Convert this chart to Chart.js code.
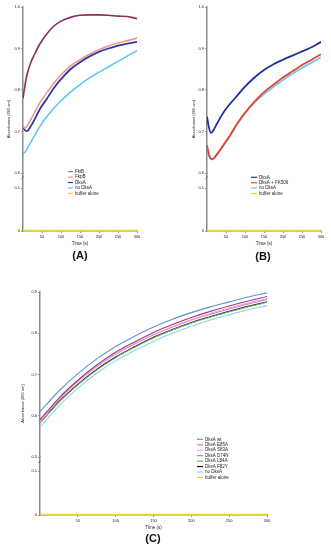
<!DOCTYPE html>
<html>
<head>
<meta charset="UTF-8">
<title>Absorbance (260 nm) over time</title>
<script src="https://cdn.jsdelivr.net/npm/chart.js"></script>
<style>
  body { margin: 0; background: #fff; font-family: "Liberation Sans", Arial, sans-serif; }
  .wrap { position: relative; width: 331px; height: 550px; overflow: hidden; }
  canvas { position: absolute; }
  .tag { position: absolute; font-weight: bold; font-size: 11px; transform: translateX(-50%); color: #111; }
</style>
</head>
<body>
<div class="wrap">
  <canvas id="chartA" width="165" height="250" style="left:0;top:0"></canvas>
  <canvas id="chartB" width="166" height="250" style="left:165px;top:0"></canvas>
  <canvas id="chartC" width="331" height="265" style="left:0;top:270px"></canvas>
  <div class="tag" style="left:80px;top:249px">(A)</div>
  <div class="tag" style="left:263px;top:250px">(B)</div>
  <div class="tag" style="left:153px;top:532px">(C)</div>
</div>

<script>
// ---- panel A ----
const timeA = [0, 5, 10, 20, 30, 45, 60, 80, 100, 125, 150, 175, 200, 225, 250, 275, 300];
const fkiB    = [0.780, 0.810, 0.835, 0.865, 0.885, 0.912, 0.932, 0.953, 0.966, 0.975, 0.980, 0.981, 0.981, 0.980, 0.978, 0.977, 0.972];
const fkpB    = [0.712, 0.708, 0.712, 0.728, 0.745, 0.770, 0.790, 0.815, 0.836, 0.858, 0.873, 0.886, 0.897, 0.906, 0.913, 0.919, 0.925];
const dksaA   = [0.712, 0.703, 0.701, 0.712, 0.728, 0.755, 0.775, 0.803, 0.826, 0.850, 0.867, 0.881, 0.892, 0.900, 0.907, 0.912, 0.916];
const noDksaA = [0.647, 0.650, 0.657, 0.673, 0.690, 0.713, 0.733, 0.755, 0.774, 0.795, 0.813, 0.829, 0.843, 0.856, 0.869, 0.882, 0.895];
const bufferA = [0.001, 0.001, 0.001, 0.001, 0.001, 0.001, 0.001, 0.001, 0.001, 0.001, 0.001, 0.001, 0.001, 0.001, 0.001, 0.001, 0.001];
const labelsA = ["FkiB", "FkpB", "DksA", "no DksA", "buffer alone"];

// ---- panel B ----
const timeB = [0, 5, 10, 15, 20, 30, 45, 60, 80, 100, 125, 150, 175, 200, 225, 250, 275, 300];
const dksaB    = [0.736, 0.710, 0.697, 0.700, 0.708, 0.725, 0.748, 0.766, 0.787, 0.808, 0.830, 0.848, 0.862, 0.873, 0.883, 0.893, 0.903, 0.916];
const fk506B   = [0.667, 0.645, 0.635, 0.634, 0.638, 0.650, 0.670, 0.690, 0.720, 0.745, 0.772, 0.795, 0.813, 0.830, 0.845, 0.860, 0.873, 0.886];
const noDksaB  = [0.651, 0.640, 0.634, 0.633, 0.636, 0.648, 0.668, 0.688, 0.718, 0.744, 0.770, 0.790, 0.808, 0.824, 0.839, 0.853, 0.866, 0.879];
const bufferB  = [0.001, 0.001, 0.001, 0.001, 0.001, 0.001, 0.001, 0.001, 0.001, 0.001, 0.001, 0.001, 0.001, 0.001, 0.001, 0.001, 0.001, 0.001];
const labelsB = ["DksA", "DksA + FK506", "no DksA", "buffer alone"];

// ---- panel C ----
const timeC = [0, 25, 50, 75, 100, 125, 150, 175, 200, 225, 250, 275, 300];
const wtC     = [0.610, 0.660, 0.702, 0.738, 0.768, 0.793, 0.815, 0.834, 0.850, 0.864, 0.876, 0.888, 0.898];
const e85aC   = [0.590, 0.643, 0.686, 0.723, 0.754, 0.779, 0.802, 0.821, 0.838, 0.853, 0.866, 0.878, 0.889];
const s83aC   = [0.585, 0.639, 0.682, 0.719, 0.750, 0.775, 0.797, 0.816, 0.833, 0.848, 0.861, 0.873, 0.884];
const d74nC   = [0.586, 0.640, 0.683, 0.719, 0.749, 0.774, 0.796, 0.815, 0.832, 0.846, 0.859, 0.871, 0.882];
const l84aC   = [0.582, 0.633, 0.675, 0.711, 0.741, 0.766, 0.789, 0.808, 0.825, 0.839, 0.852, 0.864, 0.875];
const f82yC   = [0.583, 0.634, 0.676, 0.712, 0.742, 0.767, 0.790, 0.809, 0.826, 0.840, 0.853, 0.865, 0.876];
const noDksaC = [0.572, 0.624, 0.667, 0.703, 0.733, 0.758, 0.780, 0.800, 0.817, 0.832, 0.845, 0.857, 0.867];
const bufferC = [0.001, 0.001, 0.001, 0.001, 0.001, 0.001, 0.001, 0.001, 0.001, 0.001, 0.001, 0.001, 0.001];
const labelsC = ["DksA wt", "DksA E85A", "DksA S83A", "DksA D74N", "DksA L84A", "DksA F82Y", "no DksA", "buffer alone"];

// axis ticks
const xTicks = [50, 100, 150, 200, 250, 300];
const lowTicks = [0, 0.1];
const upperTicksAB = [0.6, 0.7, 0.8, 0.9, 1.0];
const upperTicksC = [0.5, 0.6, 0.7, 0.8, 0.9];

const FONT = '"Liberation Sans", Arial, sans-serif';
const yellow = "#f2cf3c";

function pts(times, vals) {
  return times.map((t, i) => ({ x: t, y: vals[i] }));
}

function line(label, times, vals, color, width, axis, legendColor) {
  return {
    label: label,
    data: pts(times, vals),
    borderColor: color,
    backgroundColor: color,
    legendColor: legendColor || color,
    borderWidth: width,
    pointRadius: 0,
    cubicInterpolationMode: "monotone",
    fill: false,
    yAxisID: axis || "y"
  };
}

// legend, y title and axis break drawn onto the canvas
const extras = {
  id: "extras",
  afterDraw(chart, args, o) {
    const ctx = chart.ctx;
    const area = chart.chartArea;
    ctx.save();
    ctx.fillStyle = "#222";
    ctx.font = "4px " + FONT;
    ctx.translate(o.titleX, (area.top + area.bottom) / 2);
    ctx.rotate(-Math.PI / 2);
    ctx.textAlign = "center";
    ctx.textBaseline = "middle";
    ctx.fillText("Absorbance (260 nm)", 0, 0);
    ctx.restore();

    ctx.save();
    ctx.font = "4.5px " + FONT;
    ctx.textAlign = "left";
    ctx.textBaseline = "middle";
    chart.data.datasets.forEach((ds, i) => {
      const y = o.legendY + i * o.legendStep;
      ctx.strokeStyle = ds.legendColor;
      ctx.lineWidth = 1.2;
      ctx.beginPath();
      ctx.moveTo(o.legendX, y);
      ctx.lineTo(o.legendX + o.swatch, y);
      ctx.stroke();
      ctx.fillStyle = "#222";
      ctx.fillText(ds.label, o.legendX + o.swatch + 2, y);
    });

    // small break mark on the y axis
    const up = chart.scales.y;
    const by = up.bottom + 4;
    ctx.strokeStyle = "#555";
    ctx.lineWidth = 0.7;
    ctx.beginPath();
    ctx.moveTo(area.left - 1.5, by + 2);
    ctx.lineTo(area.left + 0.5, by - 1);
    ctx.stroke();
    ctx.restore();
  }
};

function options(cfg) {
  const tickFont = { size: 4, family: FONT };
  const grid = { display: true, drawOnChartArea: false, drawTicks: true, tickLength: 2, color: "#666", lineWidth: 0.7 };
  const border = { display: true, color: "#8a8a8a", width: 1.5 };
  return {
    responsive: false,
    animation: false,
    layout: { padding: cfg.padding },
    plugins: {
      legend: { display: false },
      tooltip: { enabled: false },
      extras: cfg.extras
    },
    scales: {
      x: {
        type: "linear", min: 0, max: 300,
        afterBuildTicks: s => { s.ticks = xTicks.map(v => ({ value: v })); },
        afterFit: s => { s.height = 16; },
        ticks: { font: tickFont, color: "#222", padding: 1, maxRotation: 0 },
        title: { display: true, text: "Time (s)", font: { size: 4.5, family: FONT }, color: "#222", padding: 1 },
        grid: grid, border: border
      },
      yLow: {
        type: "linear", position: "left", stack: "abs", stackWeight: cfg.lowWeight,
        min: 0, max: cfg.lowMax,
        afterBuildTicks: s => { s.ticks = lowTicks.map(v => ({ value: v })); },
        afterFit: s => { s.width = 12; },
        ticks: { font: tickFont, color: "#222", padding: 1, callback: v => v === 0 ? "0" : v.toFixed(1) },
        grid: grid, border: border
      },
      y: {
        type: "linear", position: "left", stack: "abs", stackWeight: cfg.upWeight,
        min: cfg.upTicks[0], max: cfg.upTicks[cfg.upTicks.length - 1],
        afterBuildTicks: s => { s.ticks = cfg.upTicks.map(v => ({ value: v })); },
        afterFit: s => { s.width = 12; },
        ticks: { font: tickFont, color: "#222", padding: 1, callback: v => v.toFixed(1) },
        grid: grid, border: border
      }
    }
  };
}

new Chart(document.getElementById("chartA"), {
  type: "line",
  data: {
    datasets: [
      line(labelsA[0], timeA, fkiB, "#8e2a5c", 1.6, "y", "#c8703e"),
      line(labelsA[1], timeA, fkpB, "#f2968c", 1.6),
      line(labelsA[2], timeA, dksaA, "#2b3aa6", 1.8),
      line(labelsA[3], timeA, noDksaA, "#5cc2f4", 1.5),
      line(labelsA[4], timeA, bufferA, yellow, 1.5, "yLow")
    ]
  },
  options: options({
    padding: { left: 11, right: 28, top: 7, bottom: 3 },
    lowWeight: 58, lowMax: 0.135, upWeight: 166, upTicks: upperTicksAB,
    extras: { titleX: 8.5, legendX: 68, legendY: 171.7, legendStep: 5.4, swatch: 5 }
  }),
  plugins: [extras]
});

new Chart(document.getElementById("chartB"), {
  type: "line",
  data: {
    datasets: [
      line(labelsB[0], timeB, dksaB, "#1f2fa0", 1.8),
      line(labelsB[1], timeB, fk506B, "#e8452b", 1.8),
      line(labelsB[2], timeB, noDksaB, "#6cc8f5", 1.8),
      line(labelsB[3], timeB, bufferB, yellow, 1.5, "yLow")
    ]
  },
  options: options({
    padding: { left: 30, right: 10, top: 7, bottom: 3 },
    lowWeight: 58, lowMax: 0.135, upWeight: 166, upTicks: upperTicksAB,
    extras: { titleX: 29, legendX: 86, legendY: 177.3, legendStep: 5.4, swatch: 6 }
  }),
  plugins: [extras]
});

new Chart(document.getElementById("chartC"), {
  type: "line",
  data: {
    datasets: [
      line(labelsC[0], timeC, wtC, "#5b95d8", 1.1),
      line(labelsC[1], timeC, e85aC, "#a8386e", 1.1, "y", "#c0907a"),
      line(labelsC[2], timeC, s83aC, "#f0a0e8", 1.1),
      line(labelsC[3], timeC, d74nC, "#b070f0", 1.0),
      line(labelsC[4], timeC, l84aC, "#7cc060", 1.0),
      line(labelsC[5], timeC, f82yC, "#111111", 1.3),
      line(labelsC[6], timeC, noDksaC, "#8fd0f8", 1.1),
      line(labelsC[7], timeC, bufferC, yellow, 1.5, "yLow")
    ]
  },
  options: options({
    padding: { left: 28, right: 64, top: 22, bottom: 4 },
    lowWeight: 58, lowMax: 0.132, upWeight: 165, upTicks: upperTicksC,
    extras: { titleX: 23, legendX: 197, legendY: 169.3, legendStep: 5.45, swatch: 6 }
  }),
  plugins: [extras]
});
</script>
</body>
</html>
